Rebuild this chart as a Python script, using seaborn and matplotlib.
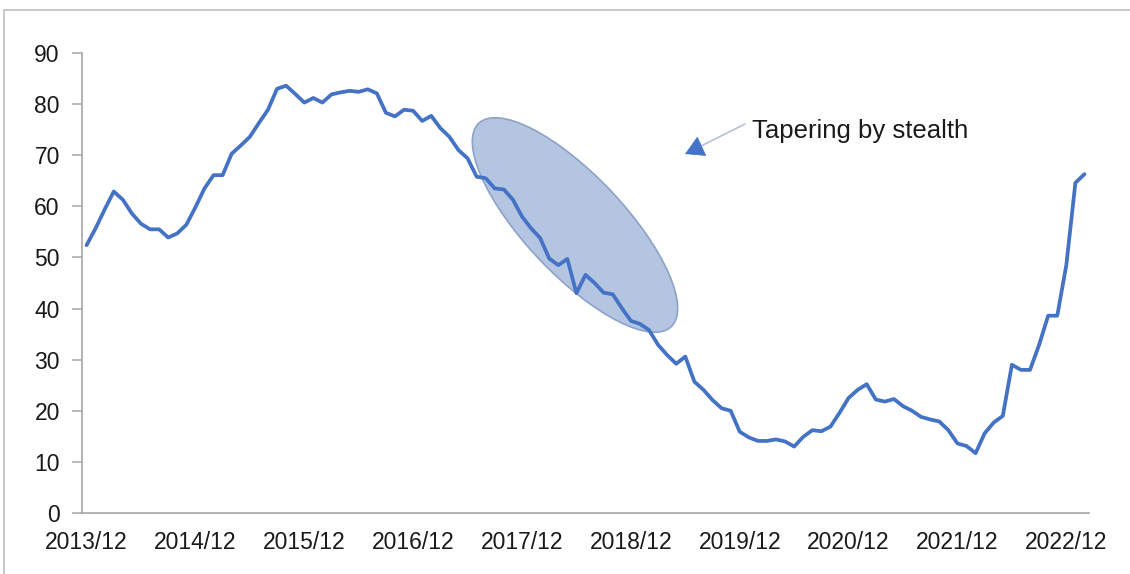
import numpy as np
import pandas as pd
import matplotlib
matplotlib.use("Agg")
import matplotlib.pyplot as plt
import seaborn as sns
from matplotlib.patches import Ellipse
from matplotlib.lines import Line2D

# ---- data (monthly, 2013/12 .. 2023/02) ----
start_month = "2013-12"
values = [
    52.4, 55.7, 59.4, 62.9, 61.3, 58.6, 56.6, 55.5, 55.5, 53.9, 54.7, 56.4,
    59.8, 63.5, 66.1, 66.1, 70.3, 71.9, 73.6, 76.3, 78.9, 83.0, 83.6, 82.0,
    80.3, 81.2, 80.3, 81.9, 82.3, 82.6, 82.4, 82.9, 82.1, 78.3, 77.6, 78.9,
    78.7, 76.7, 77.7, 75.3, 73.6, 71.0, 69.4, 65.8, 65.5, 63.5, 63.3, 61.3,
    58.0, 55.7, 53.8, 49.8, 48.5, 49.7, 43.0, 46.6, 45.0, 43.1, 42.8, 40.1,
    37.6, 37.0, 35.8, 32.9, 30.9, 29.2, 30.6, 25.7, 24.1, 22.1, 20.5, 20.0,
    15.9, 14.8, 14.1, 14.1, 14.4, 14.0, 13.0, 14.9, 16.2, 16.0, 16.9, 19.6,
    22.5, 24.1, 25.2, 22.2, 21.8, 22.3, 20.9, 20.0, 18.8, 18.3, 17.9, 16.2,
    13.6, 13.1, 11.7, 15.6, 17.7, 19.0, 29.0, 28.0, 28.0, 32.9, 38.6, 38.6,
    48.5, 64.6, 66.3,
]
y_ticks = [0, 10, 20, 30, 40, 50, 60, 70, 80, 90]
annotation_text = "Tapering by stealth"

months = pd.period_range(start_month, periods=len(values), freq="M")
month_labels = [f"{p.year}/{p.month:02d}" for p in months]
df = pd.DataFrame({"idx": np.arange(len(values)), "value": values, "label": month_labels})

# ---- style ----
sns.set_theme(style="white")
plt.rcParams["font.family"] = ["Liberation Sans", "DejaVu Sans"]

W, H = 1130, 574
fig = plt.figure(figsize=(W / 100, H / 100), dpi=100)
ax = fig.add_axes([82 / W, 61 / H, (1089 - 82) / W, (513 - 53) / H])

sns.lineplot(data=df, x="idx", y="value", ax=ax, color="#4472C4", lw=2.7, zorder=3)

ax.set_xlim(-0.5, len(values) - 0.5)
ax.set_ylim(0, 90)
ax.set_yticks(y_ticks)
tick_idx = df["idx"][::12].tolist()
ax.set_xticks(tick_idx)
ax.set_xticklabels(df["label"][::12].tolist())
ax.set_xlabel("")
ax.set_ylabel("")

for s in ["top", "right"]:
    ax.spines[s].set_visible(False)
for s in ["left", "bottom"]:
    ax.spines[s].set_color("#A6A6A6")
    ax.spines[s].set_linewidth(1.2)

ax.tick_params(axis="y", length=7, width=1.1, color="#A6A6A6", pad=9,
               labelsize=16.5, labelcolor="#1a1a1a", left=True)
ax.tick_params(axis="x", length=0, pad=13, labelsize=16.5, labelcolor="#1a1a1a")

# ---- highlighted ellipse ----
ell = Ellipse((575 / 100, (H - 225) / 100), width=2.80, height=0.99, angle=-46.6,
              transform=fig.dpi_scale_trans, facecolor="#B4C5E2",
              edgecolor="#8DA2C9", lw=1.2, zorder=2, clip_on=False)
ax.add_patch(ell)

# ---- annotation ----
ax.annotate("", xy=(695, H - 149), xycoords="figure pixels",
            xytext=(745, H - 124), textcoords="figure pixels",
            arrowprops=dict(arrowstyle="-", color="#B4C0DA", lw=1.2,
                            shrinkA=0, shrinkB=0))
ax.annotate("", xy=(685, H - 154), xycoords="figure pixels",
            xytext=(698, H - 148), textcoords="figure pixels",
            arrowprops=dict(arrowstyle="-|>,head_length=0.7,head_width=0.4",
                            color="#4472C4", lw=0.5, mutation_scale=18,
                            shrinkA=0, shrinkB=0))
fig.text(752 / W, 1 - 131 / H, annotation_text, fontsize=18.5, color="#1a1a1a",
         ha="left", va="center")

# ---- outer frame (partial, as in the crop) ----
fig.add_artist(Line2D([4 / W, 1], [1 - 10 / H, 1 - 10 / H], transform=fig.transFigure,
                      color="#BFBFBF", lw=1.2))
fig.add_artist(Line2D([4 / W, 4 / W], [0, 1 - 10 / H], transform=fig.transFigure,
                      color="#BFBFBF", lw=1.2))

fig.savefig("out.png", dpi=100)
